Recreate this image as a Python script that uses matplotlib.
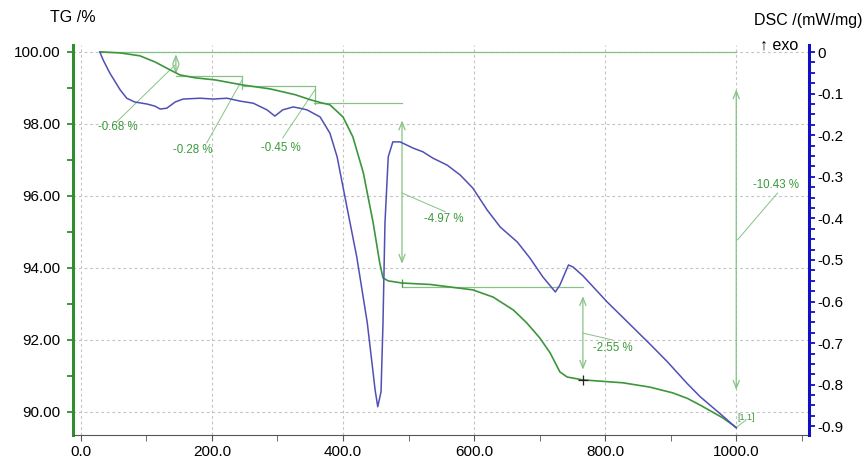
import matplotlib
matplotlib.use("Agg")
import matplotlib.pyplot as plt
from matplotlib.ticker import MultipleLocator, FixedLocator, FuncFormatter

plt.rcParams['font.family'] = ['Liberation Sans', 'DejaVu Sans']

# TG curve: temperature (deg C) and mass (%)
tg_temp = [29, 60, 90, 113, 136, 151, 174, 205, 247, 289, 327, 350, 368, 380,
           400, 415, 431, 446, 456, 461, 469, 490, 533, 598, 629, 660, 680,
           700, 716, 731, 742, 766, 827, 868, 903, 925, 945, 980, 1000]
tg_mass = [100.0, 99.97, 99.89, 99.72, 99.50, 99.36, 99.28, 99.22, 99.08,
           98.97, 98.81, 98.67, 98.58, 98.53, 98.19, 97.64, 96.64, 95.25,
           94.14, 93.72, 93.64, 93.58, 93.54, 93.39, 93.19, 92.83, 92.48,
           92.06, 91.64, 91.11, 90.97, 90.89, 90.81, 90.69, 90.53, 90.38,
           90.19, 89.83, 89.57]

# DSC curve: temperature (deg C) and heat flow (mW/mg)
dsc_temp = [29, 34, 44, 60, 70, 82, 101, 113, 121, 131, 144, 156, 182, 202,
            223, 243, 263, 284, 296, 308, 324, 334, 345, 365, 380, 391, 406,
            421, 437, 449, 453, 458, 461, 464, 469, 476, 487, 507, 522, 537,
            559, 579, 598, 620, 640, 666, 685, 705, 724, 731, 744, 751, 766,
            803, 843, 870, 895, 925, 945, 980, 1000]
dsc_flow = [0.0, -0.019, -0.050, -0.091, -0.111, -0.120, -0.125, -0.130,
            -0.137, -0.135, -0.120, -0.113, -0.111, -0.113, -0.111, -0.118,
            -0.123, -0.139, -0.154, -0.139, -0.132, -0.135, -0.139, -0.156,
            -0.195, -0.252, -0.373, -0.493, -0.651, -0.813, -0.853, -0.817,
            -0.651, -0.411, -0.252, -0.216, -0.216, -0.231, -0.240, -0.255,
            -0.272, -0.296, -0.327, -0.380, -0.421, -0.457, -0.495, -0.541,
            -0.577, -0.560, -0.512, -0.517, -0.538, -0.601, -0.663, -0.705,
            -0.745, -0.797, -0.829, -0.876, -0.904]

# mass-change evaluation
step_labels = ['-0.68 %', '-0.28 %', '-0.45 %', '-4.97 %', '-2.55 %']
step_values = [-0.68, -0.28, -0.45, -4.97, -2.55]
second_stage_start = 93.47
total_label = '-10.43 %'
total_value = -10.43

tg_color = '#3c963c'
dsc_color = '#5050b4'
mark_green = '#86c286'
text_green = '#3a9a3a'
grid_color = '#c4c4c4'

fig = plt.figure(figsize=(8.67, 4.59), dpi=100)
ax = fig.add_axes([73 / 867, 1 - 435 / 459, (809 - 73) / 867, (435 - 45) / 459])
ax2 = ax.twinx()

ax.set_xlim(-12, 1111)
ax.set_ylim(89.36, 100.19)
ax2.set_ylim(-0.921, 0.017)

# grid
ax.set_xticks([0, 200, 400, 600, 800, 1000])
ax.set_yticks([90, 92, 94, 96, 98, 100])
ax.grid(True, color=grid_color, linestyle=(0, (2.5, 2.5)), linewidth=0.8)
ax.set_axisbelow(True)

ax.plot(tg_temp, tg_mass, color=tg_color, lw=1.2, zorder=3)
ax2.plot(dsc_temp, dsc_flow, color=dsc_color, lw=1.1, zorder=3)

# step levels derived from the evaluated mass changes
lv0 = 100.0
lv1 = lv0 + step_values[0]
lv2 = lv1 + step_values[1]
lv3 = lv2 + step_values[2]
lkw = dict(color=mark_green, lw=0.9, zorder=2)
ax.plot([29, 1000], [lv0, lv0], **lkw)
ax.plot([145, 246], [lv1, lv1], **lkw)
ax.plot([246, 246], [lv1, lv2 - 0.08], **lkw)
ax.plot([246, 357], [lv2, lv2], **lkw)
ax.plot([357, 357], [lv2, lv3 - 0.05], **lkw)
ax.plot([355, 490], [lv3, lv3], **lkw)
ax.plot([490, 766], [second_stage_start, second_stage_start], **lkw)


def step_arrow(x, top, drop):
    ax.annotate('', xy=(x, top + drop * 0.9), xytext=(x, top + drop * 0.1),
                arrowprops=dict(arrowstyle='<->,head_length=0.55,head_width=0.22',
                                color=mark_green, lw=0.9, shrinkA=0, shrinkB=0),
                zorder=2)


step_arrow(145, lv0, step_values[0])
step_arrow(490, lv3, step_values[3])
step_arrow(766, second_stage_start, step_values[4])
step_arrow(1000, lv0, total_value)

# leader lines and labels
leaders = [((55, 98.06), (144, 99.64)), ((192, 97.47), (246, 99.22)),
           ((308, 97.61), (357, 98.94)), ((490, 96.08), (556, 95.56)),
           ((766, 92.19), (811, 92.0)), ((1002, 94.78), (1063, 96.08)),
           ((1000, 89.57), (1013, 89.75))]
for (x0, y0), (x1, y1) in leaders:
    ax.plot([x0, x1], [y0, y1], color=mark_green, lw=0.7, zorder=2)

label_pos = [(57, 97.92), (171, 97.28), (305, 97.33), (553, 95.36), (811, 91.78)]
for (x, y), s in zip(label_pos, step_labels):
    ax.text(x, y, s, ha='center', va='center', color=text_green, fontsize=8.3)
ax.text(1060, 96.3, total_label, ha='center', va='center', color=text_green, fontsize=8.3)
ax.text(1015, 89.85, '[1,1]', ha='center', va='center', color=text_green, fontsize=6.5)

ax.plot([490], [93.58], marker='|', color=tg_color, ms=6, mew=0.9, zorder=4)
ax.plot([766], [90.89], marker='+', color='#222222', ms=7, mew=0.9, zorder=4)

# axes styling
for a in (ax, ax2):
    a.spines['top'].set_visible(False)
ax.spines['right'].set_visible(False)
ax.spines['left'].set_color('#2f8f2f')
ax.spines['left'].set_linewidth(2.2)
ax.spines['bottom'].set_color('#555555')
ax2.spines['left'].set_visible(False)
ax2.spines['bottom'].set_visible(False)
ax2.spines['right'].set_color('#1010c0')
ax2.spines['right'].set_linewidth(2.2)

ax.xaxis.set_minor_locator(MultipleLocator(100))
ax.yaxis.set_minor_locator(MultipleLocator(1))
ax.xaxis.set_major_formatter(FuncFormatter(lambda v, p: f'{v:.1f}'))
ax.yaxis.set_major_formatter(FuncFormatter(lambda v, p: f'{v:.2f}'))
ax.tick_params(axis='x', which='both', direction='out', color='#555555',
               length=4, labelsize=11, pad=3)
ax.tick_params(axis='y', which='both', direction='out', color='#2f8f2f',
               length=4, width=1.3, labelsize=11, pad=5)

dsc_ticks = [0, -0.1, -0.2, -0.3, -0.4, -0.5, -0.6, -0.7, -0.8, -0.9]
ax2.yaxis.set_major_locator(FixedLocator(dsc_ticks))
ax2.yaxis.set_minor_locator(MultipleLocator(0.025))
ax2.yaxis.set_major_formatter(FuncFormatter(lambda v, p: '0' if abs(v) < 1e-9 else f'{v:.1f}'))
ax2.tick_params(axis='y', which='both', direction='out', color='#1010c0',
                length=4, width=1.3, labelsize=11, pad=2)

fig.text(50 / 867, 1 - 18 / 459, 'TG /%', ha='left', va='center', fontsize=11.5)
fig.text(754 / 867, 1 - 20 / 459, 'DSC /(mW/mg)', ha='left', va='center', fontsize=11.5)
fig.text(798 / 867, 1 - 45 / 459, '\u2191 exo', ha='right', va='center', fontsize=11.5)

fig.savefig('out.png', dpi=100)
